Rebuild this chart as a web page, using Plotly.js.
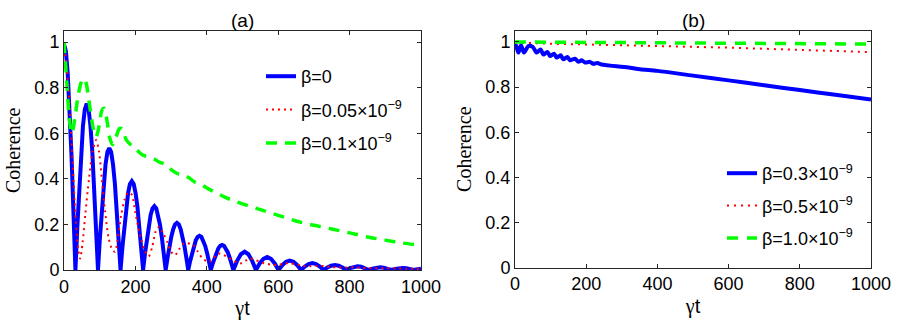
<!DOCTYPE html>
<html><head><meta charset="utf-8">
<script src="https://cdn.plot.ly/plotly-3.0.1.min.js"></script>
<style>html,body{margin:0;padding:0;background:#fff;overflow:hidden}</style>
</head><body><div id="chart" style="width:900px;height:330px"></div>
<script>
// ---- Panel (a) data ----
const blueA_x = [0, 5.3, 10.5, 15.8, 21.1, 26.3, 32,
 37.3, 42.5, 47.8, 53.1, 58.3, 63.6, 68.9, 74.1, 79.4, 84.7, 89.9, 95.2,
 100.5, 105.7, 111, 116.3, 121.5, 126.8, 132.1, 137.3, 142.6, 147.9, 153.1, 158.4,
 163.7, 168.9, 174.2, 179.5, 184.7, 190, 195.3, 200.5, 205.8, 211.1, 216.3, 221.6,
 226.9, 232.1, 237.4, 242.7, 247.9, 253.2, 258.5, 263.7, 269, 274.3, 279.5, 284.8,
 290.1, 295.3, 300.6, 305.9, 311.1, 316.4, 321.7, 326.9, 332.2, 337.5, 342.7, 348,
 353.3, 358.5, 363.8, 369.1, 374.3, 379.6, 384.9, 390.1, 395.4, 400.7, 405.9, 411.2,
 416.5, 421.7, 427, 432.3, 437.5, 442.8, 448.1, 453.3, 458.6, 463.9, 469.1, 474.4,
 484.9, 495.5, 506, 516.5, 527.1, 537.6,
 548.1, 558.7, 569.2, 579.7, 590.3, 600.8,
 611.3, 621.9, 632.4, 642.9, 653.5, 664,
 674.5, 685.1, 695.6, 706.1, 716.7, 727.2,
 737.7, 748.3, 758.8, 769.3, 779.9, 790.4,
 800.9, 811.5, 822, 832.5, 843.1, 853.6,
 864.1, 874.7, 885.2, 895.7, 906.3, 916.8,
 927.3, 937.9, 948.4, 958.9, 969.5, 980,
 990.5, 1000];
const blueA_y = [0.99, 0.96, 0.86, 0.70, 0.50, 0.26, 0,
 0.189, 0.365, 0.516, 0.632, 0.705, 0.73, 0.705, 0.632, 0.516, 0.365, 0.189, 0,
 0.139, 0.268, 0.378, 0.463, 0.517, 0.535, 0.517, 0.463, 0.378, 0.268, 0.139, 0,
 0.101, 0.195, 0.276, 0.338, 0.377, 0.39, 0.377, 0.338, 0.276, 0.195, 0.101, 0,
 0.073, 0.14, 0.198, 0.242, 0.27, 0.28, 0.27, 0.242, 0.198, 0.14, 0.073, 0,
 0.054, 0.104, 0.146, 0.179, 0.2, 0.207, 0.2, 0.179, 0.146, 0.104, 0.054, 0,
 0.039, 0.075, 0.106, 0.13, 0.145, 0.15, 0.145, 0.13, 0.106, 0.075, 0.039, 0,
 0.028, 0.055, 0.078, 0.095, 0.106, 0.11, 0.106, 0.095, 0.078, 0.055, 0.028, 0,
 0.04, 0.069, 0.08, 0.069, 0.04, 0,
 0.029, 0.049, 0.057, 0.049, 0.029, 0,
 0.021, 0.036, 0.041, 0.036, 0.021, 0,
 0.015, 0.026, 0.03, 0.026, 0.015, 0,
 0.011, 0.019, 0.022, 0.019, 0.011, 0,
 0.008, 0.014, 0.016, 0.014, 0.008, 0,
 0.006, 0.01, 0.012, 0.01, 0.006, 0,
 0.0045, 0.008, 0.009, 0.008, 0.0045, 0,
 0.003, 0.0055];

const redA_x = [0,10,20,30,38,45,52,60,70,80,90,98,106,115,125,135,143,150,160,170,
 180,190,200,212,225,237,247,257,267,278,290,300,311,322,334,345,362,375,386,398,
 409,420,432,444,455,470,485,498,510,521,535,550,565,580,600,615,630,650,670,690,
 710,730,750,770,790,810,830,850,870,900,930,960,1000];
const redA_y = [1.0,0.85,0.6,0.3,0.12,0.05,0.12,0.25,0.4,0.52,0.57,0.52,0.4,0.26,0.14,0.09,0.08,0.13,0.24,0.31,
 0.34,0.33,0.25,0.16,0.09,0.06,0.1,0.17,0.19,0.16,0.12,0.08,0.065,0.09,0.115,0.118,0.11,0.08,0.055,0.04,
 0.036,0.055,0.072,0.068,0.06,0.045,0.033,0.03,0.042,0.05,0.045,0.035,0.028,0.024,0.022,0.028,0.03,0.025,0.018,0.016,
 0.018,0.017,0.013,0.011,0.011,0.012,0.01,0.008,0.008,0.008,0.007,0.006,0.005];

const greenA_x = [0,8,15,22,30,40,50,56,62,72,82,90,98,106,112,120,128,136,145,155,
 162,175,190,205,220,240,255,265,285,305,320,335,350,365,380,400,450,500,550,600,
 650,700,750,800,850,900,950,1000];
const greenA_y = [1.0,0.82,0.66,0.6,0.66,0.77,0.83,0.84,0.82,0.72,0.62,0.585,0.63,0.70,0.71,0.66,0.58,0.55,0.58,0.62,
 0.62,0.57,0.545,0.525,0.505,0.495,0.485,0.475,0.462,0.435,0.422,0.418,0.405,0.387,0.378,0.36,0.32,0.29,0.265,0.24,
 0.215,0.196,0.18,0.163,0.145,0.131,0.118,0.108];

// ---- Panel (b) data ----
const blueB_x = [0,2.8,9.4,16.9,25.3,37.5,49.6,60.9,72.1,79.6,90.9,98.3,109.6,117,128.3,135.7,147,154.5,168.5,177.8,
 187.3,196.6,210.7,220,231,243.5,257.6,285.7,323,351,400,500,600,700,800,900,1000];
const blueB_y = [0.975,0.985,0.953,0.985,0.953,0.982,0.978,0.953,0.967,0.944,0.956,0.938,0.948,0.931,0.941,0.923,0.934,0.919,0.926,0.912,
 0.919,0.909,0.912,0.903,0.907,0.9,0.897,0.892,0.886,0.879,0.872,0.851,0.83,0.808,0.787,0.766,0.745];
const redB_x = [0,50,100,200,300,400,500,600,700,800,900,1000];
const redB_y = [0.998,0.994,0.992,0.989,0.986,0.982,0.979,0.975,0.97,0.966,0.961,0.955];
const greenB_x = [0,200,400,600,800,1000];
const greenB_y = [1.0,0.998,0.997,0.995,0.993,0.991];

const namesA = ['β=0', 'β=0.05×10<sup>−9</sup>', 'β=0.1×10<sup>−9</sup>'];
const namesB = ['β=0.3×10<sup>−9</sup>', 'β=0.5×10<sup>−9</sup>', 'β=1.0×10<sup>−9</sup>'];
const panelTitles = ['(a)', '(b)'];
const xTitle = '<span style="font-family:Liberation Serif">γ</span>t';
const yTitle = 'Coherence';

const BLUE = '#0000ff', RED = '#ff0000', GREEN = '#00ff00';

const traces = [
  {x: blueA_x, y: blueA_y, name: namesA[0], mode: 'lines', line: {color: BLUE, width: 4}, xaxis: 'x', yaxis: 'y', legend: 'legend', legendgroup: 'a1'},
  {x: redA_x, y: redA_y, name: namesA[1], mode: 'lines', line: {color: RED, width: 2, dash: '2px,4px', shape: 'spline', smoothing: 0.8}, xaxis: 'x', yaxis: 'y', legend: 'legend', legendgroup: 'a2'},
  {x: greenA_x, y: greenA_y, name: namesA[2], mode: 'lines', line: {color: GREEN, width: 3.5, dash: '11px,8px', shape: 'spline', smoothing: 0.8}, xaxis: 'x', yaxis: 'y', legend: 'legend', legendgroup: 'a3'},
  {x: blueB_x, y: blueB_y, name: namesB[0], mode: 'lines', line: {color: BLUE, width: 4, shape: 'spline', smoothing: 0.8}, xaxis: 'x2', yaxis: 'y2', legend: 'legend2', legendgroup: 'b1'},
  {x: redB_x, y: redB_y, name: namesB[1], mode: 'lines', line: {color: RED, width: 2, dash: '2px,5px'}, xaxis: 'x2', yaxis: 'y2', legend: 'legend2', legendgroup: 'b2'},
  {x: greenB_x, y: greenB_y, name: namesB[2], mode: 'lines', line: {color: GREEN, width: 3.5, dash: '11px,9px'}, xaxis: 'x2', yaxis: 'y2', legend: 'legend2', legendgroup: 'b3'}
];

const tickFont = {family: 'Liberation Sans, Arial, sans-serif', size: 18, color: '#000'};
function xAxis(domain) {
  return {domain: domain, range: [0, 1000], tickvals: [0,200,400,600,800,1000],
    showline: true, linecolor: '#262626', linewidth: 1, mirror: 'allticks', ticks: 'inside', ticklen: 4,
    tickcolor: '#262626', showgrid: false, zeroline: false, tickfont: tickFont, automargin: false,
    title: {text: xTitle, font: {family: 'Liberation Sans, Arial, sans-serif', size: 20, color: '#000'}, standoff: 5}};
}
function yAxis(domain, anchor) {
  return {domain: domain, range: [0, 1.05], tickvals: [0,0.2,0.4,0.6,0.8,1], ticktext: ['0','0.2','0.4','0.6','0.8','1'],
    showline: true, linecolor: '#262626', linewidth: 1, mirror: 'allticks', ticks: 'inside', ticklen: 4,
    tickcolor: '#262626', showgrid: false, zeroline: false, tickfont: tickFont, automargin: false, anchor: anchor,
    title: {text: yTitle, font: {family: 'Liberation Serif, Times New Roman, serif', size: 20, color: '#000'}, standoff: 8}};
}

const legendFont = {family: 'Liberation Sans, Arial, sans-serif', size: 18, color: '#000'};
const layout = {
  width: 900, height: 330,
  margin: {l: 0, r: 0, t: 0, b: 0},
  paper_bgcolor: '#fff', plot_bgcolor: '#fff',
  showlegend: true,
  xaxis: Object.assign(xAxis([64/900, 421/900]), {anchor: 'y'}),
  yaxis: yAxis([60/330, 299.3/330], 'x'),
  xaxis2: Object.assign(xAxis([515/900, 871/900]), {anchor: 'y2'}),
  yaxis2: yAxis([62.3/330, 299.3/330], 'x2'),
  legend: {x: 261/900, y: 1 - 58/330, xref: 'paper', yref: 'paper', xanchor: 'left', yanchor: 'top',
    bgcolor: 'rgba(0,0,0,0)', borderwidth: 0, font: legendFont, traceorder: 'grouped', tracegroupgap: 7},
  legend2: {x: 722/900, y: 1 - 155/330, xref: 'paper', yref: 'paper', xanchor: 'left', yanchor: 'top',
    bgcolor: 'rgba(0,0,0,0)', borderwidth: 0, font: legendFont, traceorder: 'grouped', tracegroupgap: 6},
  annotations: [
    {text: panelTitles[0], xref: 'x domain', yref: 'paper', x: 0.5, y: 1 - 21/330, xanchor: 'center', yanchor: 'middle', showarrow: false, font: {family: 'Liberation Sans, Arial, sans-serif', size: 19, color: '#000'}},
    {text: panelTitles[1], xref: 'x2 domain', yref: 'paper', x: 0.5, y: 1 - 21/330, xanchor: 'center', yanchor: 'middle', showarrow: false, font: {family: 'Liberation Sans, Arial, sans-serif', size: 19, color: '#000'}}
  ]
};

Plotly.newPlot('chart', traces, layout, {staticPlot: true, displayModeBar: false});
</script>
</body></html>
